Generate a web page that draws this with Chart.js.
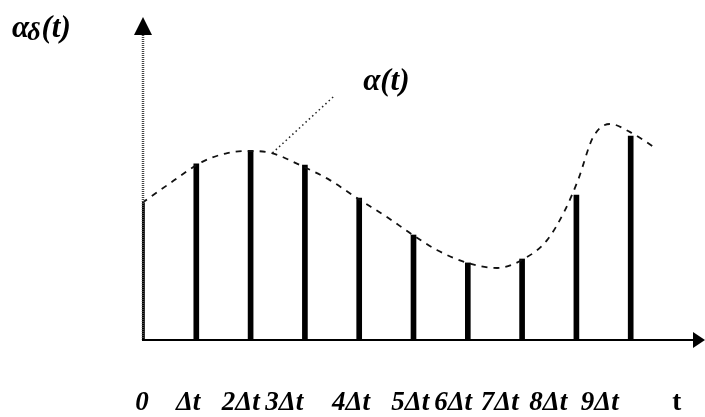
<!DOCTYPE html>
<html lang="en">
<head>
  <meta charset="UTF-8" />
  <title>Sampled signal</title>
  <script src="https://cdn.jsdelivr.net/npm/chart.js"></script>
  <style>
    html, body { margin: 0; padding: 0; background: #fff; }
    #wrap { width: 705px; height: 417px; }
  </style>
</head>
<body>
  <div id="wrap"><canvas id="chart" width="705" height="417"></canvas></div>
  <script>
    // sample positions (in Δt) and sample heights
    const sampleX = [0, 1, 2, 3, 4, 5, 6, 7, 8, 9];
    const sampleY = [4.57, 5.87, 6.27, 5.83, 4.73, 3.5, 2.57, 2.7, 4.83, 6.8];

    // the dashed continuous signal α(t)
    const curveX = [0, 0.52, 1.10, 1.57, 1.99, 2.39, 2.91, 3.46, 3.96, 4.51, 4.99, 5.43, 5.99, 6.54, 7.0, 7.46, 7.79, 8.03, 8.31, 8.62, 8.99, 9.48];
    const curveY = [4.57, 5.23, 5.93, 6.23, 6.3, 6.23, 5.83, 5.33, 4.73, 4.1, 3.5, 3.0, 2.57, 2.4, 2.67, 3.33, 4.33, 5.33, 6.77, 7.2, 6.93, 6.37];

    // tick labels under the axis and where they sit (in Δt)
    const tickLabels = ['0', 'Δt', '2Δt', '3Δt', '4Δt', '5Δt', '6Δt', '7Δt', '8Δt', '9Δt', 't'];
    const tickPos = [0, 0.85, 1.82, 2.62, 3.85, 4.94, 5.73, 6.59, 7.48, 8.43, 9.85];

    const serif = '"Liberation Serif", "Times New Roman", serif';

    // axes with arrows, y label, curve label and its pointer
    const decorations = {
      id: 'decorations',
      afterDraw(chart) {
        const c = chart.ctx;
        const a = chart.chartArea;
        const xs = chart.scales.x, ys = chart.scales.y;
        const x0 = xs.getPixelForValue(0), y0 = ys.getPixelForValue(0);
        c.save();

        // y axis (grey, dithered look)
        c.strokeStyle = '#444';
        c.lineWidth = 2.5;
        c.setLineDash([1, 1]);
        c.beginPath();
        c.moveTo(x0 + 1, y0);
        c.lineTo(x0 + 1, a.top - 10);
        c.stroke();
        c.setLineDash([]);
        c.fillStyle = '#000';
        c.beginPath();
        c.moveTo(x0 + 1, a.top - 23);
        c.lineTo(x0 - 8, a.top - 5);
        c.lineTo(x0 + 10, a.top - 5);
        c.closePath();
        c.fill();

        // x axis
        c.strokeStyle = '#000';
        c.lineWidth = 2;
        c.beginPath();
        c.moveTo(x0, y0);
        c.lineTo(a.right + 10, y0);
        c.stroke();
        c.beginPath();
        c.moveTo(a.right + 20, y0);
        c.lineTo(a.right + 8, y0 - 8);
        c.lineTo(a.right + 8, y0 + 8);
        c.closePath();
        c.fill();

        // pointer from label to curve
        c.strokeStyle = '#222';
        c.lineWidth = 1.5;
        c.setLineDash([1.5, 3]);
        c.beginPath();
        c.moveTo(xs.getPixelForValue(3.52), ys.getPixelForValue(8.1));
        c.lineTo(xs.getPixelForValue(2.4), ys.getPixelForValue(6.23));
        c.stroke();
        c.setLineDash([]);

        // curve label α(t)
        c.fillStyle = '#000';
        c.font = 'bold italic 31px ' + serif;
        c.textBaseline = 'middle';
        c.textAlign = 'center';
        c.fillText('α(t)', xs.getPixelForValue(4.5), ys.getPixelForValue(8.6));

        // y label αδ(t)
        c.textAlign = 'left';
        let lx = 12, ly = 29;
        c.font = 'bold italic 31px ' + serif;
        c.fillText('α', lx, ly);
        lx += c.measureText('α').width;
        c.font = 'bold italic 26px ' + serif;
        c.fillText('δ', lx - 2, ly + 4);
        lx += c.measureText('δ').width - 1;
        c.font = 'bold italic 31px ' + serif;
        c.fillText('(t)', lx, ly);

        c.restore();
      }
    };

    new Chart(document.getElementById('chart'), {
      type: 'bar',
      data: {
        datasets: [
          {
            type: 'line',
            data: curveX.map((x, i) => ({ x: x, y: curveY[i] })),
            borderColor: '#111',
            borderWidth: 1.8,
            borderDash: [6, 6],
            pointRadius: 0,
            cubicInterpolationMode: 'monotone',
            fill: false
          },
          {
            type: 'bar',
            data: sampleX.map((x, i) => ({ x: x, y: sampleY[i] })),
            backgroundColor: '#000',
            barThickness: 5
          }
        ]
      },
      options: {
        responsive: false,
        animation: false,
        events: [],
        layout: { padding: { left: 142, right: 20, top: 40, bottom: 0 } },
        plugins: { legend: { display: false }, tooltip: { enabled: false } },
        scales: {
          x: {
            type: 'linear',
            min: 0,
            max: 10,
            offset: false,
            grid: { display: false },
            border: { display: false },
            afterBuildTicks: scale => {
              scale.ticks = tickPos.map(v => ({ value: v }));
            },
            afterFit: scale => {
              // keep the axis band fixed so the plot fills the picture
              scale.height = 77;
              scale.paddingLeft = 0;
              scale.paddingRight = 0;
            },
            ticks: {
              autoSkip: false,
              maxRotation: 0,
              minRotation: 0,
              padding: 39,
              color: '#000',
              // the last label, t, is upright
              font: ctx => ({
                family: serif,
                size: 27,
                weight: 'bold',
                style: ctx.index === tickLabels.length - 1 ? 'normal' : 'italic'
              }),
              callback: (v, i) => tickLabels[i]
            }
          },
          y: { display: false, min: 0, max: 10 }
        }
      },
      plugins: [decorations]
    });
  </script>
</body>
</html>
